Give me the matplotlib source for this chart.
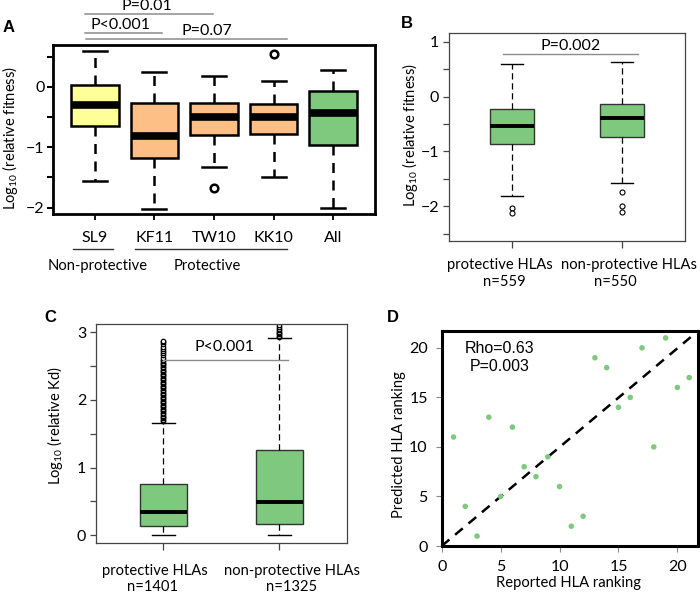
import matplotlib
matplotlib.use("Agg")
import matplotlib.pyplot as plt
from matplotlib.ticker import MultipleLocator

plt.rcParams['font.family'] = ['Lato', 'DejaVu Sans']
plt.rcParams['mathtext.fontset'] = 'custom'
plt.rcParams['mathtext.rm'] = 'Lato'

W, H = 700, 595

# ---------------- data ----------------
# Panel A
a_labels = ["SL9", "KF11", "TW10", "KK10", "All"]
a_whishi = [0.595, 0.25, 0.18, 0.095, 0.28]
a_q3 = [0.03, -0.27, -0.27, -0.28, -0.067]
a_med = [-0.305, -0.82, -0.50, -0.50, -0.43]
a_q1 = [-0.64, -1.18, -0.795, -0.78, -0.955]
a_whislo = [-1.555, -2.03, -1.32, -1.50, -2.00]
a_fliers = [[], [], [-1.67], [0.545], []]
a_colors = ["#FFFF99", "#FDBF86", "#FDBF86", "#FDBF86", "#7FC97F"]

# Panel B
b_groups = ["protective HLAs", "non-protective HLAs"]
b_counts = ["n=559", "n=550"]
b_whishi = [0.59, 0.63]
b_q3 = [-0.225, -0.127]
b_med = [-0.53, -0.383]
b_q1 = [-0.863, -0.73]
b_whislo = [-1.81, -1.57]
b_fliers = [[-2.03, -2.12], [-1.745, -2.0, -2.1]]

# Panel C
c_groups = ["protective HLAs", "non-protective HLAs"]
c_counts = ["n=1401", "n=1325"]
c_whishi = [1.663, 2.91]
c_q3 = [0.758, 1.26]
c_med = [0.35, 0.487]
c_q1 = [0.137, 0.167]
c_whislo = [0.0, 0.0]
c_fliers = [
    [1.69, 1.71, 1.73, 1.75, 1.77, 1.79, 1.81, 1.83, 1.85, 1.87, 1.89, 1.91,
     1.93, 1.95, 1.97, 1.99, 2.01, 2.03, 2.05, 2.07, 2.09, 2.11, 2.13, 2.15,
     2.17, 2.19, 2.21, 2.23, 2.25, 2.27, 2.29, 2.31, 2.33, 2.35, 2.37, 2.39,
     2.41, 2.43, 2.45, 2.47, 2.49, 2.51, 2.53, 2.55, 2.57, 2.59, 2.62, 2.66,
     2.70, 2.72, 2.76, 2.79, 2.82, 2.85, 2.87],
    [2.93, 2.95, 2.97, 2.99, 3.01, 3.03, 3.05, 3.08, 3.11, 3.15],
]

# Panel D
d_reported = [1, 2, 3, 4, 5, 6, 7, 8, 9, 10, 11, 12, 13, 14, 15, 16, 17, 18, 19, 20, 21]
d_predicted = [11, 4, 1, 13, 5, 12, 8, 7, 9, 6, 2, 3, 19, 18, 14, 15, 20, 10, 21, 16, 17]


def rect(l, t, r, b):
    return [l / W, 1 - b / H, (r - l) / W, (b - t) / H]


def fpos(x, y):
    return x / W, 1 - y / H


def stats(whislo, q1, med, q3, whishi, fliers):
    return [dict(whislo=a, q1=b, med=c, q3=d, whishi=e, fliers=f)
            for a, b, c, d, e, f in zip(whislo, q1, med, q3, whishi, fliers)]


fig = plt.figure(figsize=(7, 5.95), dpi=100)
FN = 11.5   # numbers
FT = 10.6   # words
GREEN = "#7FC97F"

# ---------------- Panel A ----------------
axA = fig.add_axes(rect(53, 45, 375, 214))
bpA = axA.bxp(stats(a_whislo, a_q1, a_med, a_q3, a_whishi, a_fliers),
              positions=range(1, 6), widths=0.8, capwidths=0.4, patch_artist=True,
              boxprops=dict(edgecolor="black", linewidth=1.8),
              medianprops=dict(color="black", linewidth=5.5, solid_capstyle="butt"),
              whiskerprops=dict(color="black", linewidth=1.8, linestyle=(0, (4, 3))),
              capprops=dict(color="black", linewidth=1.8),
              flierprops=dict(marker="o", markerfacecolor="white", markeredgecolor="black",
                              markersize=5.5, markeredgewidth=1.8))
for p, c in zip(bpA["boxes"], a_colors):
    p.set_facecolor(c)
axA.set_xlim(0.3, 5.7)
axA.set_ylim(-2.105, 0.695)
axA.set_xticks(range(1, 6))
axA.set_xticklabels(a_labels, fontsize=FN)
axA.yaxis.set_major_locator(MultipleLocator(1))
axA.yaxis.set_minor_locator(MultipleLocator(0.5))
axA.tick_params(axis="y", which="both", length=4, width=1.5, labelsize=FN, pad=2)
axA.tick_params(axis="x", length=4, width=1.3, pad=8)
for s in axA.spines.values():
    s.set_linewidth(2.0)

# significance lines A (outside axes)
gray = "#8C8C8C"
axA.plot([0.83, 2.98], [1.207, 1.207], color=gray, lw=1.1, clip_on=False)
axA.plot([0.83, 2.13], [0.89, 0.89], color=gray, lw=1.1, clip_on=False)
axA.plot([0.85, 4.23], [0.79, 0.79], color=gray, lw=1.1, clip_on=False)
axA.text(1.874, 1.34, "P=0.01", ha="center", va="center", fontsize=FN, clip_on=False)
axA.text(1.437, 1.03, "P<0.001", ha="center", va="center", fontsize=FN, clip_on=False)
axA.text(2.88, 0.93, "P=0.07", ha="center", va="center", fontsize=FN, clip_on=False)
# group lines below
axA.plot([0.63, 1.30], [-2.69, -2.69], color="#333333", lw=1.0, clip_on=False)
axA.plot([1.67, 4.23], [-2.69, -2.69], color="#333333", lw=1.0, clip_on=False)
axA.text(1.05, -2.97, "Non-protective", ha="center", va="center", fontsize=FT, clip_on=False)
axA.text(2.88, -2.97, "Protective", ha="center", va="center", fontsize=FT, clip_on=False)

# ---------------- Panel B ----------------
thin = "#444444"
axB = fig.add_axes(rect(449, 33, 685, 241))
bpB = axB.bxp(stats(b_whislo, b_q1, b_med, b_q3, b_whishi, b_fliers),
              positions=[1, 2], widths=0.4, capwidths=0.2, patch_artist=True,
              boxprops=dict(edgecolor="#333333", linewidth=1.0, facecolor=GREEN),
              medianprops=dict(color="black", linewidth=2.8, solid_capstyle="butt"),
              whiskerprops=dict(color="black", linewidth=0.9, linestyle=(0, (5, 3))),
              capprops=dict(color="black", linewidth=1.0),
              flierprops=dict(marker="o", markerfacecolor="white", markeredgecolor="black",
                              markersize=3.6, markeredgewidth=0.8))
axB.set_xlim(0.427, 2.573)
axB.set_ylim(-2.633, 1.162)
axB.set_xticks([1, 2])
axB.set_xticklabels([])
axB.yaxis.set_major_locator(MultipleLocator(1))
axB.yaxis.set_minor_locator(MultipleLocator(0.5))
axB.tick_params(axis="y", which="both", length=4, width=0.9, color=thin, labelsize=FN, pad=3)
axB.tick_params(axis="x", length=5, width=0.9, color=thin)
for s in axB.spines.values():
    s.set_linewidth(0.9)
    s.set_color(thin)
axB.plot([0.92, 2.145], [0.78, 0.78], color=gray, lw=1.0)
axB.text(1.53, 0.92, "P=0.002", ha="center", va="center", fontsize=FN)
for g, n, xg, xn in zip(b_groups, b_counts, [500, 629], [504, 615]):
    fig.text(*fpos(xg, 265), g, ha="center", va="center", fontsize=FT)
    fig.text(*fpos(xn, 282), n, ha="center", va="center", fontsize=FT)

# ---------------- Panel C ----------------
axC = fig.add_axes(rect(96, 324, 346.7, 543))
bpC = axC.bxp(stats(c_whislo, c_q1, c_med, c_q3, c_whishi, c_fliers),
              positions=[1, 2], widths=0.4, capwidths=0.2, patch_artist=True,
              boxprops=dict(edgecolor="#333333", linewidth=1.0, facecolor=GREEN),
              medianprops=dict(color="black", linewidth=2.8, solid_capstyle="butt"),
              whiskerprops=dict(color="black", linewidth=0.9, linestyle=(0, (5, 3))),
              capprops=dict(color="black", linewidth=1.0),
              flierprops=dict(marker="o", markerfacecolor="white", markeredgecolor="black",
                              markersize=3.2, markeredgewidth=0.9))
axC.set_xlim(0.42, 2.58)
axC.set_ylim(-0.114, 3.123)
axC.set_xticks([1, 2])
axC.set_xticklabels([])
axC.yaxis.set_major_locator(MultipleLocator(1))
axC.yaxis.set_minor_locator(MultipleLocator(0.5))
axC.tick_params(axis="y", which="both", length=4, width=0.9, color=thin, labelsize=FN, pad=3)
axC.tick_params(axis="x", length=5, width=0.9, color=thin)
for s in axC.spines.values():
    s.set_linewidth(0.9)
    s.set_color(thin)
axC.plot([1.0, 2.07], [2.59, 2.59], color=gray, lw=1.0)
axC.text(1.525, 2.78, "P<0.001", ha="center", va="center", fontsize=FN)
for g, n, xg, xn in zip(c_groups, c_counts, [155, 292], [153, 292]):
    fig.text(*fpos(xg, 571), g, ha="center", va="center", fontsize=FT)
    fig.text(*fpos(xn, 587), n, ha="center", va="center", fontsize=FT)

# ---------------- Panel D ----------------
axD = fig.add_axes(rect(441.7, 331, 698, 546))
axD.scatter(d_reported, d_predicted, s=16, color=GREEN, edgecolors="none", zorder=3)
axD.set_xlim(0.15, 21.75)
axD.set_ylim(0.15, 21.7)
axD.plot([0, 1], [0, 1], transform=axD.transAxes, color="black", lw=1.8,
         linestyle=(0, (4, 3)), zorder=2)
axD.set_xticks([0, 5, 10, 15, 20])
axD.set_yticks([0, 5, 10, 15, 20])
axD.tick_params(axis="both", length=4, width=0.8, color="#888888", labelsize=FN, pad=6)
for s in axD.spines.values():
    s.set_linewidth(2.2)
axD.text(4.9, 19.9, "Rho=0.63", ha="center", va="center", fontsize=11.5,
         family=["Liberation Sans"])
axD.text(4.9, 18.1, "P=0.003", ha="center", va="center", fontsize=11.5,
         family=["Liberation Sans"])

# ---------------- labels ----------------
fig.text(*fpos(10, 138), r"Log$_\mathrm{10}$ (relative fitness)", rotation=90,
         ha="center", va="center", fontsize=FT)
fig.text(*fpos(410, 135), r"Log$_\mathrm{10}$ (relative fitness)", rotation=90,
         ha="center", va="center", fontsize=FT)
fig.text(*fpos(55, 425), r"Log$_\mathrm{10}$ (relative Kd)", rotation=90,
         ha="center", va="center", fontsize=FT)
fig.text(*fpos(399, 445), "Predicted HLA ranking", rotation=90,
         ha="center", va="center", fontsize=FT)
fig.text(*fpos(569, 583), "Reported HLA ranking", ha="center", va="center", fontsize=FT)

for lab, (x, y) in zip("ABCD", [(9, 28), (407, 23), (50, 317), (393, 317)]):
    fig.text(*fpos(x, y), lab, ha="center", va="center", fontsize=12,
             fontweight="bold", family=["Liberation Sans"])

fig.savefig("out.png", dpi=100)
